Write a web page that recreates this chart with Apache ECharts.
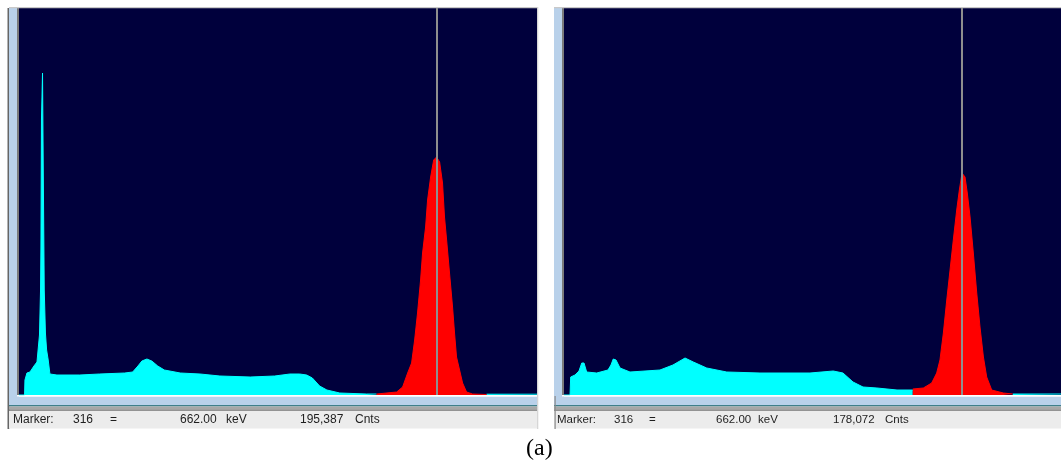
<!DOCTYPE html>
<html>
<head>
<meta charset="utf-8">
<script src="https://cdn.jsdelivr.net/npm/echarts@6/dist/echarts.min.js"></script>
<style>
html,body{margin:0;padding:0;background:#ffffff;}
#chart{width:1061px;height:464px;}
</style>
</head>
<body>
<div id="chart"></div>
<script>
// ---------- DATA (channel, counts) ----------
const markerChannel = 316;

// Left spectrum (a-1)
const leftCyanCh     = [0, 4.2, 4.5, 6, 8.3, 11.3, 13.6, 15.5, 16.3, 16.6, 17, 17.8, 18.4, 19.1, 20, 20.9, 22.1, 23.4, 28.7, 46, 61, 80, 86, 90, 93, 96.8, 100.5, 105, 110, 122, 137, 152, 175, 193.5, 205, 212.4, 217.7, 222, 227.5, 233, 242.7, 263, 270.6];
const leftCyanCounts = [0, 0, 150, 220, 230, 290, 330, 600, 1050, 1480, 2750, 3220, 2180, 1050, 620, 450, 350, 210, 200, 200, 210, 220, 230, 290, 340, 360, 340, 290, 250, 220, 210, 190, 180, 190, 210, 210, 200, 170, 90, 50, 20, 10, 10];
const leftRoiCh      = [270.6, 285.8, 290.3, 294.1, 297.1, 299.4, 301.6, 303.9, 305.4, 307.7, 309.2, 311.5, 313.8, 316, 318.3, 320.5, 322, 323.6, 325.8, 328.1, 329.6, 331.1, 333.4, 335.7, 338.7, 343.2, 353.8];
const leftRoiCounts  = [10, 30, 80, 220, 320, 550, 820, 1150, 1420, 1680, 1950, 2180, 2350, 2380, 2330, 2120, 1780, 1550, 1220, 880, 620, 380, 250, 120, 30, 10, 5];
const leftTailCh     = [353.8, 392];
const leftTailCounts = [8, 8];

// Right spectrum (a-2)
const rightCyanCh     = [0, 4.8, 5.3, 8.7, 11.9, 14.1, 15.9, 18, 26, 34.9, 37.3, 39.1, 41.3, 44.5, 52.4, 76.2, 86.5, 96.1, 102.7, 113.3, 129.2, 155.6, 195.3, 213.8, 221.5, 229.5, 237.4, 248.5, 264.4, 276.9];
const rightCyanCounts = [0, 0, 180, 200, 240, 320, 320, 230, 220, 250, 300, 360, 350, 270, 230, 250, 300, 370, 330, 270, 230, 220, 220, 240, 220, 130, 80, 70, 50, 50];
const rightRoiCh      = [276.9, 285.3, 291.9, 295.9, 298.5, 301.2, 303.9, 306.5, 309.1, 311.8, 313.9, 316, 318.4, 320.2, 322.4, 325, 327.7, 330.3, 333, 335.6, 339.6, 348.8, 356.3];
const rightRoiCounts  = [60, 70, 120, 220, 350, 620, 950, 1250, 1550, 1850, 2050, 2220, 2180, 2020, 1780, 1420, 1020, 680, 380, 180, 50, 20, 10];
const rightTailCh     = [356.3, 394.6];
const rightTailCounts = [10, 10];

// Status bar texts
const leftStatus  = {marker: 'Marker:', ch: '316', eq: '=', energy: '662.00', unit: 'keV', counts: '195,387', cunit: 'Cnts'};
const rightStatus = {marker: 'Marker:', ch: '316', eq: '=', energy: '662.00', unit: 'keV', counts: '178,072', cunit: 'Cnts'};
const caption = '(a)';

// ---------- BUILD ----------
const NAVY = '#00003c', CYAN = '#00ffff', RED = '#ff0000', LBLUE = '#b9d1ea', BAR = '#ececec';
const pairs = (xs, ys) => xs.map((x, i) => [x, ys[i]]);

function areaSeries(idx, data, color, withMarker) {
  const s = {
    type: 'line', xAxisIndex: idx, yAxisIndex: idx, data: data,
    showSymbol: false, symbol: 'none', silent: true, animation: false,
    lineStyle: {color: color, width: 1}, areaStyle: {color: color, opacity: 1},
    z: 3
  };
  if (withMarker) {
    s.markLine = {
      silent: true, symbol: ['none', 'none'], animation: false,
      label: {show: false},
      lineStyle: {color: '#8e8e8e', width: 2, type: 'solid'},
      data: [{xAxis: markerChannel}]
    };
  }
  return s;
}

function hiddenAxis(extra) {
  return Object.assign({
    type: 'value', axisLine: {show: false}, axisTick: {show: false},
    axisLabel: {show: false}, splitLine: {show: false}
  }, extra);
}

function statusTexts(st, xs, y, size) {
  const keys = ['marker', 'ch', 'eq', 'energy', 'unit', 'counts', 'cunit'];
  return keys.map((k, i) => ({
    type: 'text', left: xs[i], top: y, z: 20,
    style: {text: st[k], fill: '#1e1e1e', font: size + 'px "Liberation Sans", Arial, sans-serif'}
  }));
}

function frame(x0, plotL, plotR, outerLine) {
  const g = [];
  if (outerLine) g.push({type: 'rect', shape: {x: x0 - 1.5, y: 8, width: 1.8, height: 421}, style: {fill: '#666666'}, z: 1});
  g.push({type: 'rect', shape: {x: x0, y: 8, width: plotL - x0, height: 398}, style: {fill: LBLUE}, z: 1});
  g.push({type: 'rect', shape: {x: plotL - 2, y: 8, width: 2, height: 388}, style: {fill: '#7b7b7b'}, z: 2});
  g.push({type: 'rect', shape: {x: x0, y: 7, width: plotR - x0 + 1, height: 1.2}, style: {fill: '#c9c9c9'}, z: 2});
  g.push({type: 'rect', shape: {x: plotL - 2, y: 395, width: plotR - plotL + 3, height: 1.5}, style: {fill: '#ffffff'}, z: 2});
  g.push({type: 'rect', shape: {x: x0, y: 396.5, width: plotR - x0 + 1, height: 8.5}, style: {fill: LBLUE}, z: 1});
  g.push({type: 'rect', shape: {x: x0, y: 405, width: plotR - x0 + 1, height: 1.5}, style: {fill: '#3f7f8a'}, z: 2});
  g.push({type: 'rect', shape: {x: x0, y: 406.5, width: plotR - x0 + 1, height: 3}, style: {fill: '#a7a7a7'}, z: 2});
  g.push({type: 'rect', shape: {x: x0, y: 409.5, width: plotR - x0 + 1, height: 1.2}, style: {fill: '#707070'}, z: 2});
  g.push({type: 'rect', shape: {x: x0, y: 410.7, width: plotR - x0 + 1, height: 17.8}, style: {fill: BAR}, z: 1});
  g.push({type: 'rect', shape: {x: plotR, y: 7, width: 1.3, height: 422}, style: {fill: '#d6d6d6'}, z: 2});
  return g;
}

const chart = echarts.init(document.getElementById('chart'), null, {renderer: 'canvas'});
const graphics = []
  .concat(frame(9, 19, 537, true))
  .concat(frame(554, 564, 1062, false))
  .concat([{type: 'rect', shape: {x: 554.5, y: 396, width: 1.2, height: 33}, style: {fill: '#8a8a8a'}, z: 3}])
  .concat(statusTexts(leftStatus, [13, 73, 110, 180, 226, 300, 355], 414, 12))
  .concat(statusTexts(rightStatus, [557, 614, 649, 716, 758, 833, 885], 414, 11.5))
  .concat([{type: 'text', left: 526, top: 437, z: 20,
            style: {text: caption, fill: '#000', font: '24px "Liberation Serif", "Times New Roman", serif'}}]);

chart.setOption({
  animation: false,
  backgroundColor: '#ffffff',
  grid: [
    {left: 19, top: 8, width: 518, height: 387, show: true, backgroundColor: NAVY, borderWidth: 0},
    {left: 564, top: 8, width: 497, height: 387, show: true, backgroundColor: NAVY, borderWidth: 0}
  ],
  xAxis: [
    hiddenAxis({gridIndex: 0, min: 0, max: 392}),
    hiddenAxis({gridIndex: 1, min: 0, max: 394.6})
  ],
  yAxis: [
    hiddenAxis({gridIndex: 0, min: 0, max: 3870}),
    hiddenAxis({gridIndex: 1, min: 0, max: 3870})
  ],
  graphic: graphics,
  series: [
    areaSeries(0, pairs(leftCyanCh, leftCyanCounts), CYAN, false),
    areaSeries(0, pairs(leftTailCh, leftTailCounts), CYAN, false),
    areaSeries(0, pairs(leftRoiCh, leftRoiCounts), RED, true),
    areaSeries(1, pairs(rightCyanCh, rightCyanCounts), CYAN, false),
    areaSeries(1, pairs(rightTailCh, rightTailCounts), CYAN, false),
    areaSeries(1, pairs(rightRoiCh, rightRoiCounts), RED, true)
  ]
});
</script>
</body>
</html>
